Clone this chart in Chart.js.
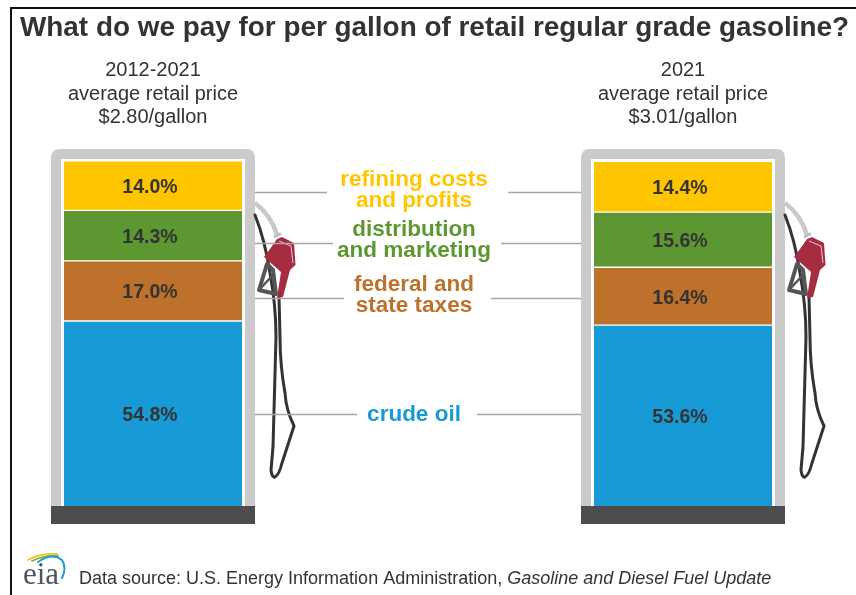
<!DOCTYPE html>
<html>
<head>
<meta charset="utf-8">
<style>html,body{margin:0;padding:0;background:#fff}canvas{display:block}</style>
<script src="https://cdn.jsdelivr.net/npm/chart.js@4"></script>
</head>
<body>
<canvas id="c" width="856" height="595"></canvas>
<script>
const periods = ["2012-2021", "2021"];
const priceNotes = ["$2.80/gallon", "$3.01/gallon"];
const crudeOil = [54.8, 53.6];
const taxes = [17.0, 16.4];
const distribution = [14.3, 15.6];
const refining = [14.0, 14.4];
const titleText = "What do we pay for per gallon of retail regular grade gasoline?";

const FONT = '"Liberation Sans", Arial, sans-serif';
const INK = '#333333';
const COL = {crude:'#189ad6', tax:'#bd712a', dist:'#5d9732', ref:'#ffc600'};
const PUMP_FLOOR = 506;

// center labels with leader line extents (style only; values come from the arrays above)
const callouts = [
  {lines:["refining costs","and profits"], color:COL.ref, y:192, tY:[180,201], l:327, r:508},
  {lines:["distribution","and marketing"], color:COL.dist, y:243, tY:[230,251], l:333, r:501},
  {lines:["federal and","state taxes"], color:COL.tax, y:298, tY:[285,306], l:344, r:491},
  {lines:["crude oil"], color:COL.crude, y:414, tY:[415], l:357, r:477}
];

function rr(ctx,x,y,w,h,r){
  ctx.beginPath();ctx.moveTo(x,y+h);ctx.lineTo(x,y+r);ctx.quadraticCurveTo(x,y,x+r,y);
  ctx.lineTo(x+w-r,y);ctx.quadraticCurveTo(x+w,y,x+w,y+r);ctx.lineTo(x+w,y+h);ctx.closePath();
}
function poly(ctx,pts){ctx.beginPath();pts.forEach((p,i)=>i?ctx.lineTo(p[0],p[1]):ctx.moveTo(p[0],p[1]));}

function drawNozzle(ctx,cx){
  const o = cx-153; // drawn relative to the left pump
  ctx.save();ctx.translate(o,0);ctx.lineJoin='round';ctx.lineCap='round';
  // black hose
  ctx.strokeStyle='#333';ctx.lineWidth=3;
  ctx.beginPath();ctx.moveTo(255,215);ctx.quadraticCurveTo(265,240,270,273);
  ctx.bezierCurveTo(275,300,276,320,276,337);ctx.lineTo(273,447);ctx.lineTo(271,470);
  ctx.quadraticCurveTo(272,478,275,477);ctx.quadraticCurveTo(279,475,282,463);ctx.lineTo(294,426);
  ctx.quadraticCurveTo(286,410,285,393);ctx.quadraticCurveTo(280,365,280,337);ctx.lineTo(279,297);ctx.stroke();
  // gray hose and collar
  ctx.strokeStyle='#c8c8c8';ctx.lineWidth=4.5;ctx.lineCap='butt';
  ctx.beginPath();ctx.moveTo(255,203);ctx.quadraticCurveTo(271,215,277,235);ctx.stroke();
  ctx.strokeStyle='#bdbdbd';ctx.lineWidth=3;
  ctx.beginPath();ctx.moveTo(274,237);ctx.lineTo(281,233.5);ctx.stroke();
  // dark handle
  ctx.strokeStyle='#555';ctx.lineWidth=4;
  poly(ctx,[[267,264],[259,290],[276,294],[273,270]]);ctx.closePath();ctx.stroke();
  ctx.lineWidth=2.5;
  poly(ctx,[[259,290],[272,276],[275,285]]);ctx.stroke();
  // red nozzle
  ctx.fillStyle='#a52c41';
  poly(ctx,[[282,237],[294,243],[295.5,265],[290,270],[283,297],[277,298],[281,272],[264,257],[270,249],[277,239]]);
  ctx.closePath();ctx.fill();
  ctx.strokeStyle='#e6c6cc';ctx.lineWidth=1;
  poly(ctx,[[279,241],[291,246],[293,263]]);ctx.stroke();
  ctx.restore();
}

const pumpPlugin = {
  id:'pump',
  beforeDatasetsDraw(chart){
    const ctx=chart.ctx, top=149, bottom=PUMP_FLOOR;
    chart.getDatasetMeta(0).data.forEach(bar=>{
      ctx.fillStyle='#cbcbcb';rr(ctx,bar.x-102,top,204,bottom-top,9);ctx.fill();
      ctx.fillStyle='#fff';ctx.fillRect(bar.x-92,top+10,184,bottom-top-10);
    });
  },
  afterDatasetsDraw(chart){
    const ctx=chart.ctx;
    const bars=chart.getDatasetMeta(0).data;
    ctx.save();
    // pump bases and nozzles
    bars.forEach(bar=>{
      ctx.fillStyle='#4d4d4d';ctx.fillRect(bar.x-102,PUMP_FLOOR,204,18);
      drawNozzle(ctx,bar.x);
    });
    // leader lines
    ctx.strokeStyle='#a6a6a6';ctx.lineWidth=1.3;
    callouts.forEach(c=>{
      ctx.beginPath();
      ctx.moveTo(bars[0].x+102,c.y+.5);ctx.lineTo(c.l,c.y+.5);
      ctx.moveTo(c.r,c.y+.5);ctx.lineTo(bars[1].x-102,c.y+.5);
      ctx.stroke();
    });
    // callout text
    ctx.textAlign='center';ctx.textBaseline='middle';ctx.font='bold 22.5px '+FONT;
    callouts.forEach(c=>{
      ctx.fillStyle=c.color;
      c.lines.forEach((t,i)=>ctx.fillText(t,414,c.tY[i]));
    });
    // percent labels
    ctx.font='bold 19.5px '+FONT;ctx.fillStyle=INK;
    chart.data.datasets.forEach((ds,i)=>{
      chart.getDatasetMeta(i).data.forEach((el,j)=>{
        const low=Math.min(el.base,PUMP_FLOOR);
        ctx.fillText(ds.data[j].toFixed(1)+'%',el.x-3,(el.y+low)/2+2);
      });
    });
    // frame
    ctx.strokeStyle='#111';ctx.lineWidth=2;
    ctx.beginPath();ctx.moveTo(11,595);ctx.lineTo(11,8);ctx.lineTo(856,8);ctx.stroke();
    // source
    ctx.textAlign='left';ctx.textBaseline='alphabetic';ctx.fillStyle=INK;
    ctx.font='18px '+FONT;
    const src='Data source: U.S. Energy Information Administration, ';
    ctx.fillText(src,79,584);
    const w=ctx.measureText(src).width;
    ctx.font='italic 18px '+FONT;
    ctx.fillText('Gasoline and Diesel Fuel Update',79+w,584);
    // logo
    ctx.font='31px "Liberation Serif", serif';ctx.fillStyle='#4a5560';
    ctx.fillText('eia',23,584);
    ctx.lineWidth=1.8;ctx.lineCap='round';
    ctx.strokeStyle='#f2c21a';ctx.beginPath();ctx.moveTo(28,560);ctx.quadraticCurveTo(40,553,57,554);ctx.stroke();
    ctx.strokeStyle='#7fb23a';ctx.beginPath();ctx.moveTo(32,561);ctx.quadraticCurveTo(44,555,58,556);ctx.stroke();
    ctx.strokeStyle='#1b9ad6';ctx.lineWidth=2;ctx.beginPath();ctx.moveTo(38,562);ctx.quadraticCurveTo(52,552,62,560);ctx.quadraticCurveTo(67,568,62,578);ctx.stroke();
    ctx.restore();
  }
};

const border = {top:1,bottom:1,left:0,right:0};
const mk = (label,data,color)=>({label,data,backgroundColor:color,borderColor:'#fff',borderWidth:border,borderSkipped:false,clip:false,barThickness:178});
const spacerAxis = (position,width)=>({position,min:0,max:100.1,stacked:true,grid:{display:false,drawTicks:false},border:{display:false},ticks:{display:false},afterFit(s){s.width=width;}});

new Chart(document.getElementById('c'),{
  type:'bar',
  data:{
    labels:periods.map((p,i)=>[p,'average retail price',priceNotes[i]]),
    datasets:[
      mk('crude oil',crudeOil,COL.crude),
      mk('federal and state taxes',taxes,COL.tax),
      mk('distribution and marketing',distribution,COL.dist),
      mk('refining costs and profits',refining,COL.ref)
    ]
  },
  options:{
    responsive:false,animation:false,
    layout:{padding:{left:20,right:0,top:12,bottom:80.4}},
    scales:{
      x:{type:'category',position:'top',offset:false,stacked:true,
         grid:{display:false,drawTicks:false},border:{display:false},
         ticks:{autoSkip:false,maxRotation:0,minRotation:0,padding:32,color:INK,font:{family:FONT,size:20,lineHeight:1.16}},
         afterFit(s){s.height=115.4;}},
      y:spacerAxis('left',133),
      yRight:spacerAxis('right',173)
    },
    plugins:{
      legend:{display:false},tooltip:{enabled:false},
      title:{display:true,text:titleText,align:'start',color:INK,
        font:{family:FONT,size:27.9,weight:'bold',lineHeight:1.2},padding:{top:0,bottom:0}}
    }
  },
  plugins:[pumpPlugin]
});
</script>
</body>
</html>
